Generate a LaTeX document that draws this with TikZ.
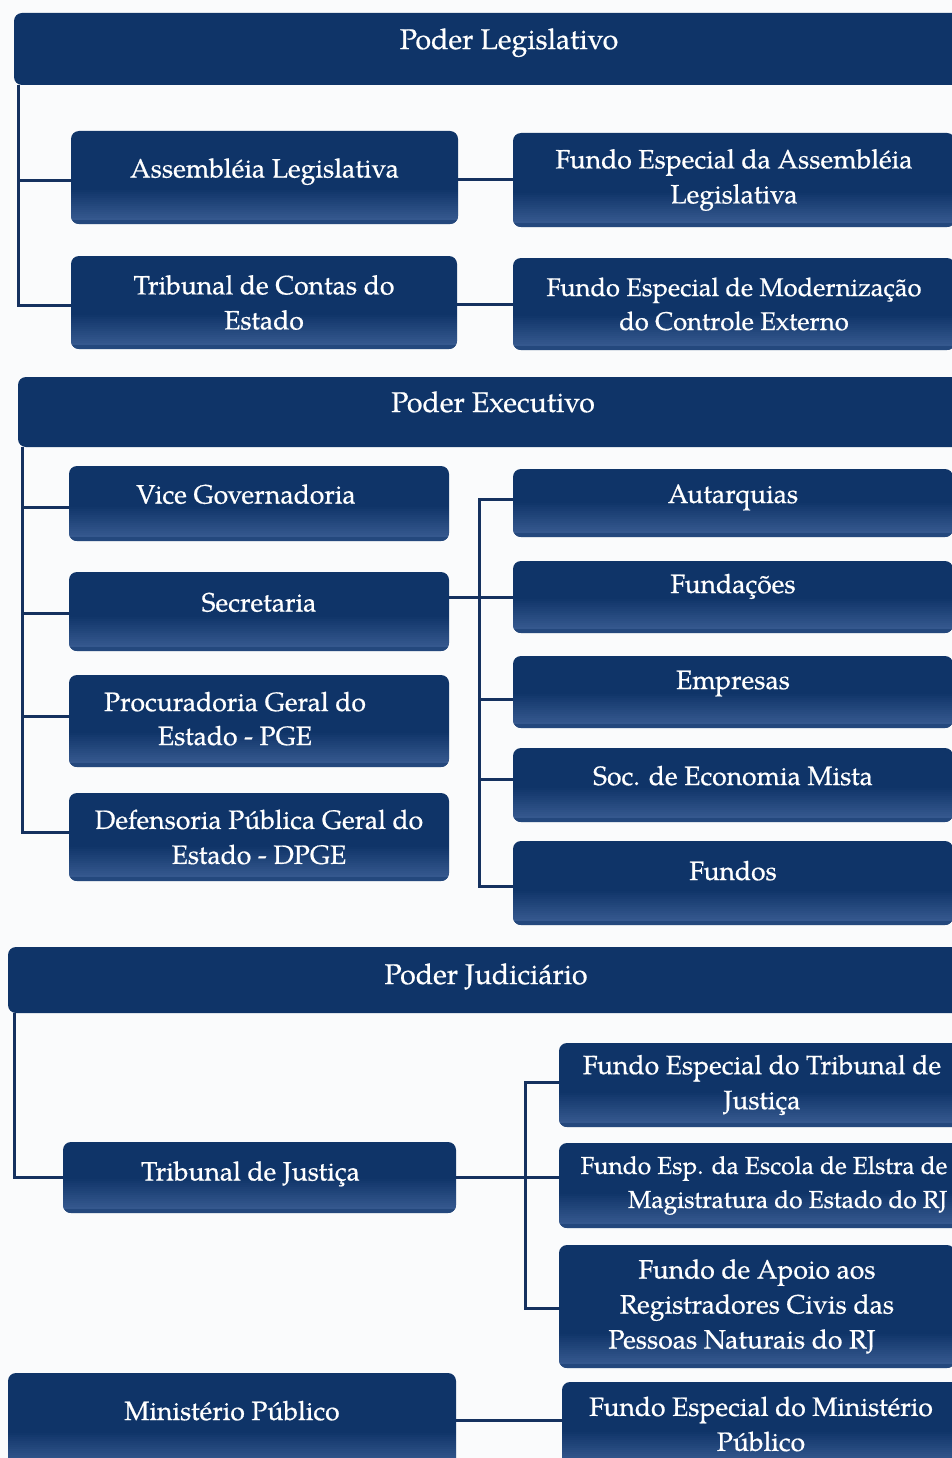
\documentclass[tikz,border=0pt]{standalone}
\usepackage{fontspec}
\setmainfont{texgyrepagella}[Extension=.otf,UprightFont=*-regular,BoldFont=*-bold,ItalicFont=*-italic,BoldItalicFont=*-bolditalic,UprightFeatures={FakeBold=0.6}]
\definecolor{navy}{HTML}{0F3468}
\definecolor{navlt}{HTML}{35588E}
\definecolor{linec}{HTML}{15315F}
\definecolor{bgc}{HTML}{FAFBFC}
\newcommand\dfont{\fontsize{26.5}{35}\selectfont}
\newcommand\hfont{\fontsize{28.5}{35}\selectfont}
\begin{document}
\begin{tikzpicture}[x=1pt,y=-1pt,
  bar/.style={rounded corners=8pt, fill=navy, text=white, font=\dfont, inner sep=0pt},
  head/.style={bar, font=\hfont},
  box/.style={bar, path picture={
      \foreach \i in {1,...,15}{
        \pgfmathtruncatemacro\pc{\i*100/15}
        \fill[sharp corners, navlt!\pc!navy]
          ([yshift={(34.4-2*\i)*1pt}]path picture bounding box.south west) rectangle
          ([yshift={(36-2*\i)*1pt}]path picture bounding box.south east);}
      \fill[sharp corners, navlt!55!navy]
        ([yshift=4.2pt]path picture bounding box.south west) rectangle (path picture bounding box.south east);}},
  one/.style={text height=12pt, text depth=12pt},
  conn/.style={draw=linec, line width=3pt}]
\useasboundingbox (0,0) rectangle (952,1458);
\clip (0,0) rectangle (952,1458);
\fill[bgc] (0,0) rectangle (952,1458);

% Poder Legislativo
\node[head, one, minimum width=990pt, minimum height=72pt] (leg) at (509,49) {Poder Legislativo};
\node[box, one, minimum width=387pt, minimum height=93pt] (ale) at (264.5,177.5) {Assembléia Legislativa};
\node[box, align=center, minimum width=442pt, minimum height=94pt] (fal) at (734,180) {Fundo Especial da Assembléia\\Legislativa};
\node[box, align=center, minimum width=386pt, minimum height=93pt] (tce) at (264,302.5) {Tribunal de Contas do\\Estado};
\node[box, align=center, font=\fontsize{25.5}{34}\selectfont, minimum width=442pt, minimum height=92pt] (fmod) at (734,304) {Fundo Especial de Modernização\\do Controle Externo};

% Poder Executivo
\node[head, one, minimum width=950pt, minimum height=70pt] (exe) at (493,412) {Poder Executivo};
\node[box, one, minimum width=380pt, minimum height=75pt] (vice) at (259,503.5) {\hspace*{-26pt}Vice Governadoria};
\node[box, one, minimum width=380pt, minimum height=79pt] (sec) at (259,611.5) {Secretaria};
\node[box, minimum width=380pt, minimum height=92pt] (pge) at (259,721) {\hspace*{-48pt}\begin{tabular}{@{}c@{}}Procuradoria Geral do\\[-1pt]Estado - PGE\end{tabular}};
\node[box, align=center, minimum width=380pt, minimum height=88pt] (dpge) at (259,837) {Defensoria Pública Geral do\\Estado - DPGE};
\node[box, one, minimum width=440pt, minimum height=68pt] (aut) at (733,503) {Autarquias};
\node[box, text height=8pt, text depth=16pt, minimum width=440pt, minimum height=72pt] (fun) at (733,597) {Fundações};
\node[box, text height=9pt, text depth=15pt, minimum width=440pt, minimum height=72pt] (emp) at (733,692) {Empresas};
\node[box, one, minimum width=440pt, minimum height=74pt] (soc) at (733,785) {Soc. de Economia Mista};
\node[box, text height=9pt, text depth=15pt, minimum width=440pt, minimum height=84pt] (fnd) at (733,883) {Fundos};

% Poder Judiciario
\node[head, text height=16pt, text depth=8pt, minimum width=956pt, minimum height=66pt] (jud) at (486,980) {Poder Judiciário};
\node[box, text height=15pt, text depth=9pt, minimum width=393pt, minimum height=71pt] (tj) at (259.5,1177.5) {\hspace*{-18pt}Tribunal de Justiça};
\node[box, align=center, minimum width=406pt, minimum height=84pt] (fetj) at (762,1085) {Fundo Especial do Tribunal de\\Justiça};
\node[box, align=right, font=\fontsize{24.5}{34}\selectfont, minimum width=410pt, minimum height=85pt] (esc) at (764,1185.5) {Fundo Esp. da Escola de Elstra de\\Magistratura do Estado do RJ};
\node[box, align=center, minimum width=396pt, minimum height=123pt] (apo) at (757,1306.5) {Fundo de Apoio aos\\Registradores Civis das\\Pessoas Naturais do RJ\hspace*{30pt}};
\node[box, one, minimum width=448pt, minimum height=94pt] (mp) at (232,1420) {Ministério Público};
\node[box, align=center, minimum width=398pt, minimum height=84pt] (femp) at (761,1424) {Fundo Especial do Ministério\\Público};

% connectors: Legislativo
\draw[conn] ([xshift=5pt]leg.south west) |- ([yshift=-3pt]ale.west);
\draw[conn] ([xshift=5pt]leg.south west) |- ([yshift=-2.5pt]tce.west);
\draw[conn] (ale.east |- fal.west) -- (fal.west);
\draw[conn] (tce.east |- fmod.west) -- (fmod.west);

% connectors: Executivo
\draw[conn] ([xshift=5pt]exe.south west) |- ([yshift=-3.5pt]vice.west);
\draw[conn] ([xshift=5pt]exe.south west) |- ([yshift=-1.5pt]sec.west);
\draw[conn] ([xshift=5pt]exe.south west) |- ([yshift=5pt]pge.west);
\draw[conn] ([xshift=5pt]exe.south west) |- ([yshift=5pt]dpge.west);
\draw[conn] (sec.east |- fun.west) -- (fun.west);
\coordinate (ebus) at (479,597);
\draw[conn] (ebus) |- ([yshift=4pt]aut.west);
\draw[conn] (ebus) |- ([yshift=-7pt]emp.west);
\draw[conn] (ebus) |- ([yshift=6pt]soc.west);
\draw[conn] (ebus) |- ([yshift=-3pt]fnd.west);

% connectors: Judiciario
\draw[conn] ([xshift=7pt]jud.south west) |- (tj.west);
\draw[conn] (tj.east) -- (tj.east -| esc.west);
\coordinate (jbus) at (525,1177.5);
\draw[conn] (jbus) |- ([yshift=3pt]fetj.west);
\draw[conn] (jbus) |- ([yshift=-1.5pt]apo.west);
\draw[conn] (mp.east) -- (mp.east -| femp.west);
\end{tikzpicture}
\end{document}
